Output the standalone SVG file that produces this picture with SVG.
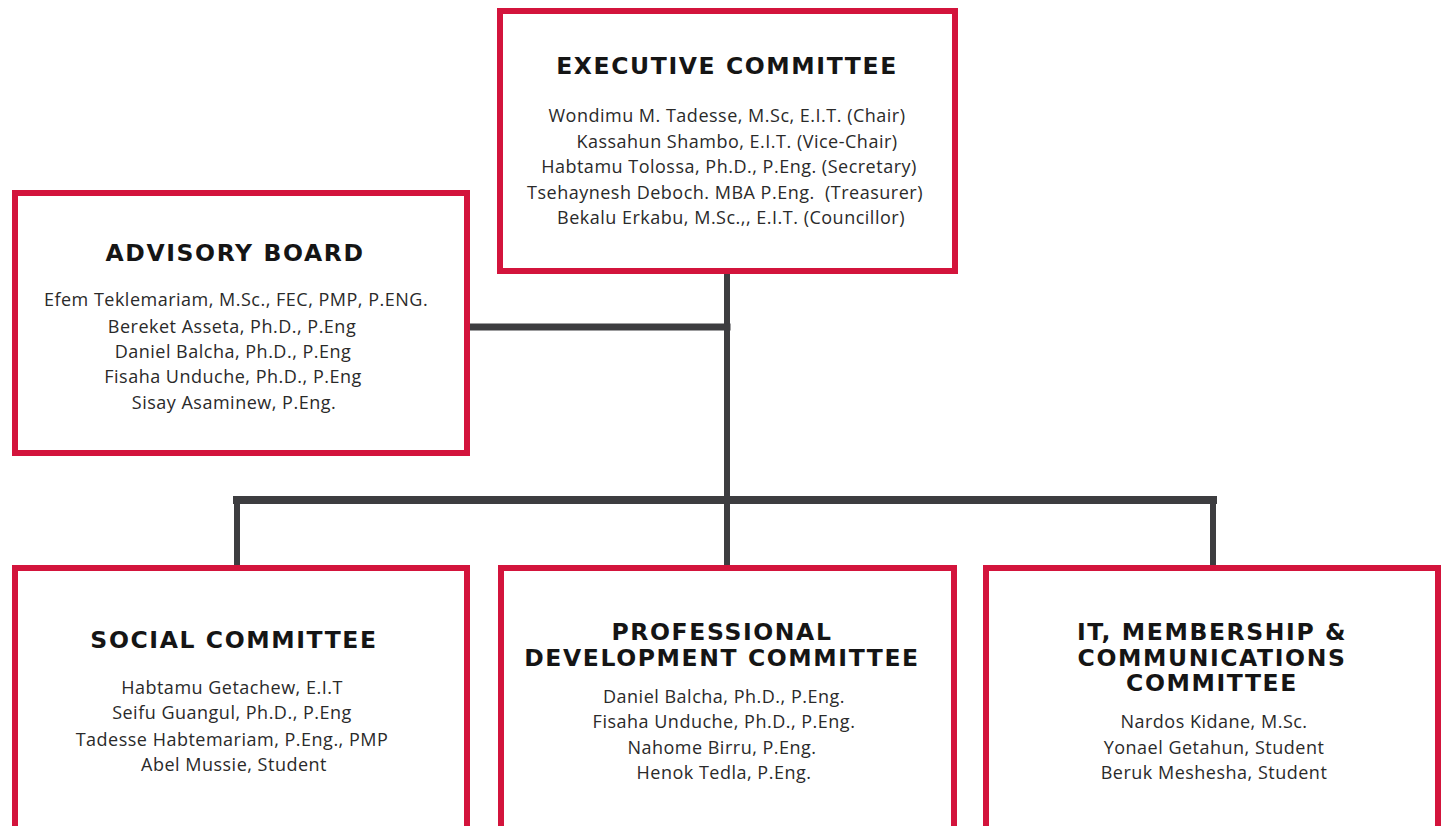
<svg xmlns="http://www.w3.org/2000/svg" width="1448" height="826" viewBox="0 0 1448 826">
<style>
.box{fill:#ffffff;stroke:#d3143c;stroke-width:6}
.title{font-family:"DejaVu Sans","Liberation Sans",sans-serif;font-weight:700;font-size:23.5px;letter-spacing:1.6px;fill:#151515;text-anchor:middle}
.name{font-family:"Open Sans","Liberation Sans",sans-serif;font-size:18px;letter-spacing:0.5px;fill:#2a2a2a;text-anchor:middle}
.conn{stroke:#3d3d40;fill:none;stroke-linecap:square}
</style>
<rect width="1448" height="826" fill="#ffffff"/>
<g id="connectors">
<line class="conn" x1="727" y1="273" x2="727" y2="565" stroke-width="6"/>
<line class="conn" x1="473" y1="327" x2="727" y2="327" stroke-width="7"/>
<line class="conn" x1="237" y1="500" x2="1213" y2="500" stroke-width="8"/>
<line class="conn" x1="237" y1="500" x2="237" y2="565" stroke-width="6"/>
<line class="conn" x1="1213" y1="500" x2="1213" y2="565" stroke-width="6"/>
</g>
<g id="executive">
<rect class="box" x="500" y="11" width="455" height="260"/>
<text class="title" x="727" y="74">EXECUTIVE COMMITTEE</text>
<text class="name" x="727" y="122">Wondimu M. Tadesse, M.Sc, E.I.T. (Chair)</text>
<text class="name" x="737" y="148">Kassahun Shambo, E.I.T. (Vice-Chair)</text>
<text class="name" x="729" y="173">Habtamu Tolossa, Ph.D., P.Eng. (Secretary)</text>
<text class="name" x="725" y="199" xml:space="preserve">Tsehaynesh Deboch. MBA P.Eng.  (Treasurer)</text>
<text class="name" x="731" y="224">Bekalu Erkabu, M.Sc.,, E.I.T. (Councillor)</text>
</g>
<g id="advisory">
<rect class="box" x="15" y="193" width="452" height="260"/>
<text class="title" x="235" y="261">ADVISORY BOARD</text>
<text class="name" x="236" y="306">Efem Teklemariam, M.Sc., FEC, PMP, P.ENG.</text>
<text class="name" x="232" y="333">Bereket Asseta, Ph.D., P.Eng</text>
<text class="name" x="233" y="358">Daniel Balcha, Ph.D., P.Eng</text>
<text class="name" x="233" y="383">Fisaha Unduche, Ph.D., P.Eng</text>
<text class="name" x="234" y="409">Sisay Asaminew, P.Eng.</text>
</g>
<g id="social">
<rect class="box" x="15" y="568" width="452" height="280"/>
<text class="title" x="234" y="648">SOCIAL COMMITTEE</text>
<text class="name" x="232" y="694">Habtamu Getachew, E.I.T</text>
<text class="name" x="232" y="719">Seifu Guangul, Ph.D., P.Eng</text>
<text class="name" x="232" y="746">Tadesse Habtemariam, P.Eng., PMP</text>
<text class="name" x="234" y="771">Abel Mussie, Student</text>
</g>
<g id="professional">
<rect class="box" x="501" y="568" width="453" height="280"/>
<text class="title" x="722" y="640">PROFESSIONAL</text>
<text class="title" x="722" y="665.5">DEVELOPMENT COMMITTEE</text>
<text class="name" x="724" y="703">Daniel Balcha, Ph.D., P.Eng.</text>
<text class="name" x="724" y="728">Fisaha Unduche, Ph.D., P.Eng.</text>
<text class="name" x="722" y="754">Nahome Birru, P.Eng.</text>
<text class="name" x="724" y="779">Henok Tedla, P.Eng.</text>
</g>
<g id="it">
<rect class="box" x="986" y="568" width="452" height="280"/>
<text class="title" x="1212" y="640">IT, MEMBERSHIP &amp;</text>
<text class="title" x="1212" y="665.5">COMMUNICATIONS</text>
<text class="title" x="1212" y="691">COMMITTEE</text>
<text class="name" x="1214" y="728">Nardos Kidane, M.Sc.</text>
<text class="name" x="1214" y="754">Yonael Getahun, Student</text>
<text class="name" x="1214" y="779">Beruk Meshesha, Student</text>
</g>
</svg>
